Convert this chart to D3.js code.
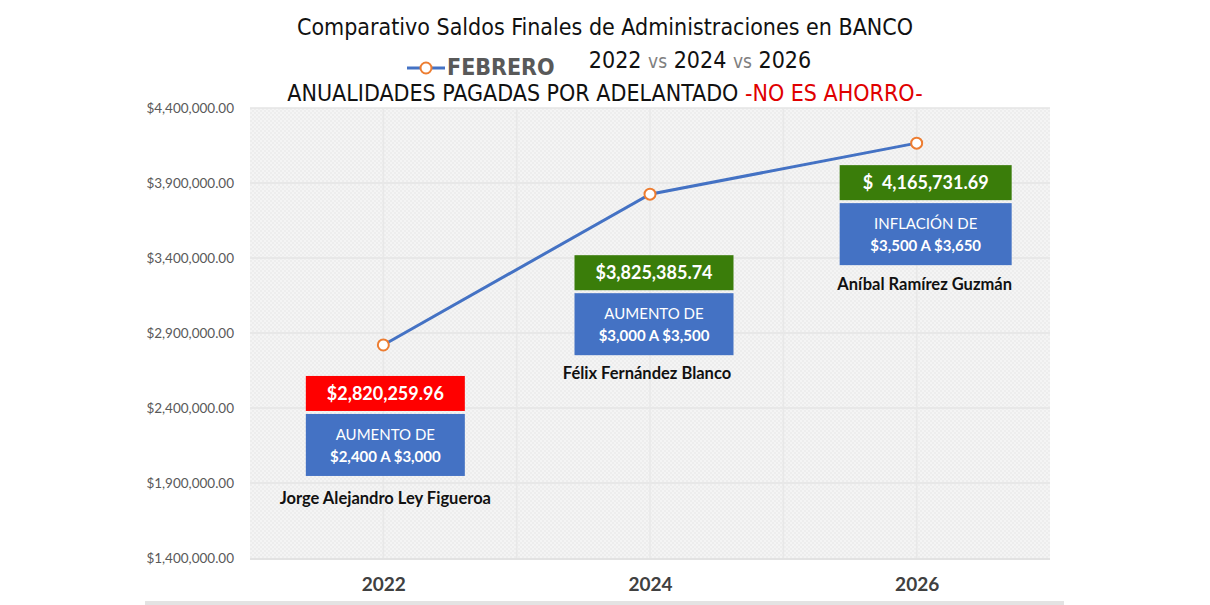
<!DOCTYPE html>
<meta charset="utf-8">
<script src="https://d3js.org/d3.v7.min.js"></script>
<style>
  body { margin: 0; background: #fff; }
  .cond { font-family: "Liberation Sans Narrow", "DejaVu Sans Condensed", sans-serif; }
  .lato { font-family: Lato, "Open Sans", sans-serif; }
</style>
<div id="chart"></div>
<script>

// data
var years = ["2022", "2024", "2026"];
var saldos = [2820259.96, 3825385.74, 4165731.69];
var saldoLabels = ["$2,820,259.96", "$3,825,385.74", "$  4,165,731.69"];
var saldoColors = ["#ff0000", "#3a7d0a", "#3a7d0a"];
var cambioLine1 = ["AUMENTO DE", "AUMENTO DE", "INFLACIÓN DE"];
var cambioLine2 = ["$2,400 A $3,000", "$3,000 A $3,500", "$3,500 A $3,650"];
var nombres = ["Jorge Alejandro Ley Figueroa", "Félix Fernández Blanco", "Aníbal Ramírez Guzmán"];
var yTicks = [1400000, 1900000, 2400000, 2900000, 3400000, 3900000, 4400000];

var W = 1210, H = 605;
var margin = {top: 108, right: 160, bottom: 47, left: 250},
    width = W - margin.left - margin.right,
    height = H - margin.top - margin.bottom;

var svg = d3.select("#chart").append("svg")
    .attr("width", W)
    .attr("height", H);

// hatched background of the plot area
var defs = svg.append("defs");
var pat = defs.append("pattern")
    .attr("id", "hatch")
    .attr("width", 4).attr("height", 4)
    .attr("patternUnits", "userSpaceOnUse");
pat.append("rect").attr("width", 4).attr("height", 4).attr("fill", "#f4f4f4");
pat.append("rect").attr("width", 2).attr("height", 2).attr("fill", "#ededed");
pat.append("rect").attr("x", 2).attr("y", 2).attr("width", 2).attr("height", 2).attr("fill", "#ededed");

var g = svg.append("g")
    .attr("transform", "translate(" + margin.left + "," + margin.top + ")");

var x = d3.scalePoint().domain(years).range([0, width]).padding(0.5);
var y = d3.scaleLinear().domain([1400000, 4400000]).range([height, 0]);

g.append("rect")
    .attr("width", width)
    .attr("height", height)
    .attr("fill", "url(#hatch)");

// horizontal gridlines
g.append("g").selectAll("line")
    .data(yTicks.slice(1))
    .enter().append("line")
      .attr("x1", 0).attr("x2", width)
      .attr("y1", function(d) { return y(d); })
      .attr("y2", function(d) { return y(d); })
      .attr("stroke", "#e4e4e4")
      .attr("stroke-width", 1.5);

// vertical gridlines: category centres and boundaries
var step = x.step();
var vLines = [];
years.forEach(function(d, i) {
  vLines.push(x(d));
  if (i > 0) vLines.push(x(d) - step / 2);
});
g.append("g").selectAll("line")
    .data(vLines)
    .enter().append("line")
      .attr("x1", function(d) { return d; })
      .attr("x2", function(d) { return d; })
      .attr("y1", 0).attr("y2", height)
      .attr("stroke", "#e8e8e8")
      .attr("stroke-width", 1.5);

// bottom axis line
g.append("line")
    .attr("x1", 0).attr("x2", width)
    .attr("y1", height + 1).attr("y2", height + 1)
    .attr("stroke", "#d9d9d9")
    .attr("stroke-width", 1.5);

// y axis labels
var yAxis = g.append("g")
    .call(d3.axisLeft(y).tickValues(yTicks)
      .tickFormat(function(d) { return "$" + d3.format(",.2f")(d); })
      .tickSize(0).tickPadding(16));
yAxis.select(".domain").remove();
yAxis.selectAll("text")
    .attr("class", "lato")
    .style("font-size", "13.5px")
    .attr("fill", "#595959");

// x axis labels
var xAxis = g.append("g")
    .attr("transform", "translate(0," + height + ")")
    .call(d3.axisBottom(x).tickSize(0).tickPadding(20));
xAxis.select(".domain").remove();
xAxis.selectAll("text")
    .attr("class", "lato")
    .style("font-size", "19px")
    .style("font-weight", "bold")
    .attr("fill", "#404040");

// the line
var line = d3.line()
    .x(function(d, i) { return x(years[i]); })
    .y(function(d) { return y(d); });

g.append("path")
    .datum(saldos)
    .attr("d", line)
    .attr("fill", "none")
    .attr("stroke", "#4472c4")
    .attr("stroke-width", 3);

g.selectAll(".dot")
    .data(saldos)
    .enter().append("circle")
      .attr("class", "dot")
      .attr("cx", function(d, i) { return x(years[i]); })
      .attr("cy", function(d) { return y(d); })
      .attr("r", 5.5)
      .attr("fill", "#fff")
      .attr("stroke", "#ed7d31")
      .attr("stroke-width", 2);

// annotation boxes under each point
var boxDx = [2, 4, 9];
var boxDy = [31, 61, 22];
var boxW = [159, 159, 172];

var ann = g.selectAll(".ann")
    .data(saldos)
    .enter().append("g")
      .attr("class", "ann")
      .attr("transform", function(d, i) {
        return "translate(" + (x(years[i]) + boxDx[i]) + "," + (y(d) + boxDy[i]) + ")";
      });

ann.append("rect")
    .attr("x", function(d, i) { return -boxW[i] / 2; })
    .attr("width", function(d, i) { return boxW[i]; })
    .attr("height", 35)
    .attr("fill", function(d, i) { return saldoColors[i]; });

ann.append("text")
    .attr("class", "lato")
    .attr("y", 18)
    .attr("dy", "0.35em")
    .attr("text-anchor", "middle")
    .style("font-size", "18px")
    .style("font-weight", "bold")
    .style("white-space", "pre")
    .attr("fill", "#fff")
    .text(function(d, i) { return saldoLabels[i]; });

ann.append("rect")
    .attr("x", function(d, i) { return -boxW[i] / 2; })
    .attr("y", 38)
    .attr("width", function(d, i) { return boxW[i]; })
    .attr("height", 62)
    .attr("fill", "#4472c4");

ann.append("text")
    .attr("class", "lato")
    .attr("y", 59)
    .attr("dy", "0.35em")
    .attr("text-anchor", "middle")
    .style("font-size", "15px")
    .attr("fill", "#fff")
    .text(function(d, i) { return cambioLine1[i]; });

ann.append("text")
    .attr("class", "lato")
    .attr("y", 81)
    .attr("dy", "0.35em")
    .attr("text-anchor", "middle")
    .style("font-size", "15px")
    .style("font-weight", "bold")
    .attr("fill", "#fff")
    .text(function(d, i) { return cambioLine2[i]; });

var nameDy = [122, 118, 119];
var nameDx = [0, -7, -1];
ann.append("text")
    .attr("class", "lato")
    .attr("x", function(d, i) { return nameDx[i]; })
    .attr("y", function(d, i) { return nameDy[i]; })
    .attr("dy", "0.35em")
    .attr("text-anchor", "middle")
    .style("font-size", "16.5px")
    .style("font-weight", "bold")
    .attr("fill", "#111")
    .text(function(d, i) { return nombres[i]; });

// titles
svg.append("text")
    .attr("class", "cond")
    .attr("x", 605).attr("y", 35)
    .attr("text-anchor", "middle")
    .style("font-size", "23px")
    .attr("fill", "#111")
    .text("Comparativo Saldos Finales de Administraciones en BANCO");

var t2 = svg.append("text")
    .attr("class", "cond")
    .attr("x", 700).attr("y", 68)
    .attr("text-anchor", "middle")
    .style("font-size", "23px")
    .attr("fill", "#111");
t2.append("tspan").text("2022 ");
t2.append("tspan").attr("fill", "#808080").style("font-size", "19px").text("vs");
t2.append("tspan").text(" 2024 ");
t2.append("tspan").attr("fill", "#808080").style("font-size", "19px").text("vs");
t2.append("tspan").text(" 2026");

// legend
var leg = svg.append("g").attr("transform", "translate(407,68)");
leg.append("line").attr("x1", 0).attr("x2", 38)
    .attr("stroke", "#4472c4").attr("stroke-width", 3);
leg.append("circle").attr("cx", 19).attr("r", 5.5)
    .attr("fill", "#fff").attr("stroke", "#ed7d31").attr("stroke-width", 2);
leg.append("text")
    .attr("class", "cond")
    .attr("x", 40).attr("y", -1).attr("dy", "0.35em")
    .style("font-size", "23px")
    .style("font-weight", "bold")
    .attr("fill", "#595959")
    .text("FEBRERO");

var t3 = svg.append("text")
    .attr("class", "cond")
    .attr("x", 605).attr("y", 101)
    .attr("text-anchor", "middle")
    .style("font-size", "23px")
    .attr("fill", "#111");
t3.append("tspan").text("ANUALIDADES PAGADAS POR ADELANTADO ");
t3.append("tspan").attr("fill", "#e00000").text("-NO ES AHORRO-");

// bottom band
svg.append("rect")
    .attr("x", 145).attr("y", 601)
    .attr("width", 919).attr("height", 4)
    .attr("fill", "#e3e3e3");

</script>
